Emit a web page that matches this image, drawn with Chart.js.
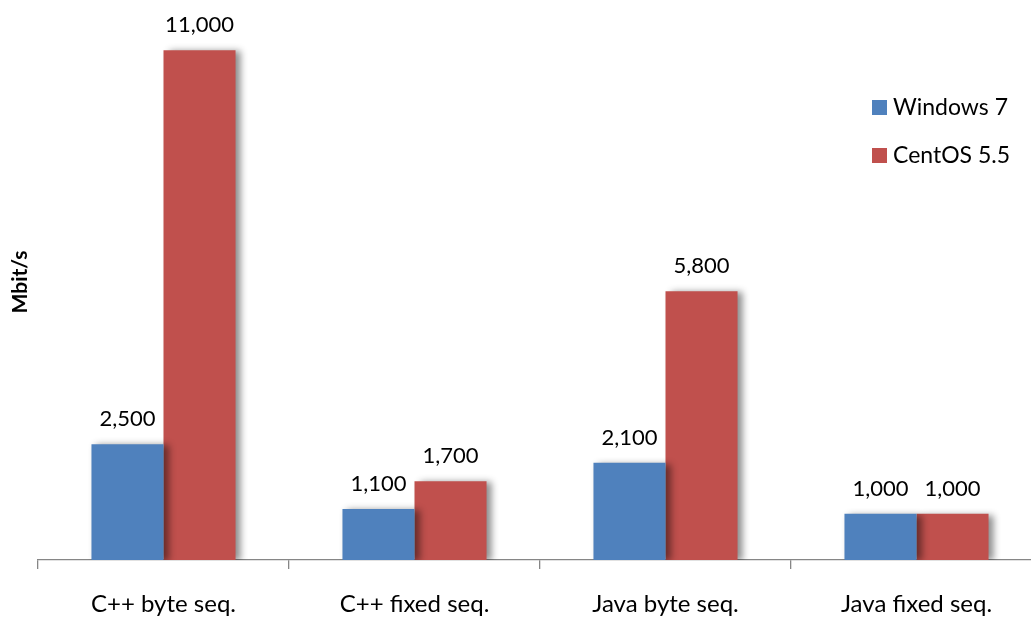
<!DOCTYPE html>
<html>
<head>
<meta charset="utf-8">
<script src="https://cdn.jsdelivr.net/npm/chart.js@4.4.1/dist/chart.umd.min.js"></script>
<style>
  html, body { margin: 0; padding: 0; background: #fff; overflow: hidden; }
  #wrap { width: 1050px; height: 617px; }
</style>
</head>
<body>
<div id="wrap"><canvas id="myChart"></canvas></div>
<script>
const categories = ["C++ byte seq.", "C++ fixed seq.", "Java byte seq.", "Java fixed seq."];
const seriesNames = ["Windows 7", "CentOS 5.5"];
const windows7 = [2500, 1100, 2100, 1000];
const centos55 = [11000, 1700, 5800, 1000];
const seriesColors = ["#4F81BD", "#C0504D"];

const FONT = "Lato, 'Open Sans', sans-serif";

// soft drop shadow to the right of each bar
const barShadow = {
    id: "barShadow",
    beforeDatasetDraw(chart) {
        const c = chart.ctx;
        c.save();
        c.shadowColor = "rgba(0,0,0,0.45)";
        c.shadowBlur = 7;
        c.shadowOffsetX = 5;
        c.shadowOffsetY = 1;
    },
    afterDatasetDraw(chart) {
        chart.ctx.restore();
    }
};

// value labels above bars + legend inside the plot
const labelsAndLegend = {
    id: "labelsAndLegend",
    afterDatasetsDraw(chart) {
        const c = chart.ctx;
        c.save();
        c.font = "22px " + FONT;
        c.fillStyle = "#000";
        c.textAlign = "center";
        c.textBaseline = "bottom";
        chart.data.datasets.forEach((ds, i) => {
            chart.getDatasetMeta(i).data.forEach((bar, j) => {
                c.fillText(ds.data[j].toLocaleString("en-US"), bar.x, bar.y - 14);
            });
        });
        // legend
        c.textAlign = "left";
        c.textBaseline = "middle";
        c.font = "23px " + FONT;
        const lx = 872, ly = [107, 155];
        seriesNames.forEach((name, i) => {
            c.fillStyle = seriesColors[i];
            c.fillRect(lx, ly[i] - 7, 15, 15);
            c.fillStyle = "#000";
            c.fillText(name, lx + 21, ly[i] + 1);
        });
        c.restore();
    }
};

new Chart(document.getElementById("myChart").getContext("2d"), {
    type: "bar",
    data: {
        labels: categories,
        datasets: [
            { label: seriesNames[0], data: windows7, backgroundColor: seriesColors[0] },
            { label: seriesNames[1], data: centos55, backgroundColor: seriesColors[1] }
        ]
    },
    options: {
        responsive: true,
        maintainAspectRatio: false,
        animation: false,
        datasets: { bar: { barPercentage: 1, categoryPercentage: 0.574 } },
        layout: { padding: { top: 4, right: 8, left: 0, bottom: 0 } },
        plugins: {
            legend: { display: false },
            tooltip: { enabled: false }
        },
        scales: {
            x: {
                grid: {
                    offset: true,
                    drawOnChartArea: false,
                    drawTicks: true,
                    tickLength: 9,
                    color: "#868686",
                    lineWidth: 1.3
                },
                border: { display: true, color: "#868686", width: 1.3 },
                ticks: { color: "#000", font: { family: FONT, size: 24 }, padding: 21 },
                afterFit(axis) { axis.height = 57; }
            },
            y: {
                min: 0,
                max: 12000,
                ticks: { display: false },
                grid: { display: false },
                border: { display: false },
                title: {
                    display: true,
                    text: "Mbit/s",
                    color: "#000",
                    font: { family: FONT, size: 21, weight: "bold" },
                    padding: { top: 8, bottom: 0 }
                },
                afterFit(axis) { axis.width = 38; }
            }
        }
    },
    plugins: [barShadow, labelsAndLegend]
});
</script>
</body>
</html>
